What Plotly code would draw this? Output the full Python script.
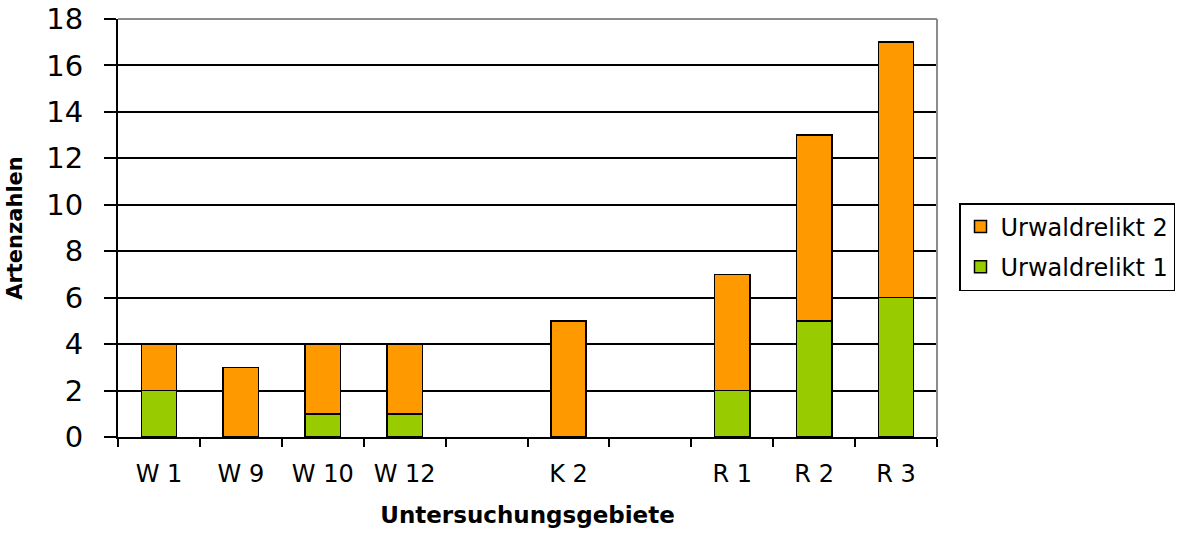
import plotly.graph_objects as go

categories = ["W 1", "W 9", "W 10", "W 12", " ", "K 2", "  ", "R 1", "R 2", "R 3"]
urwaldrelikt1 = [2, None, 1, 1, None, None, None, 2, 5, 6]
urwaldrelikt2 = [2, 3, 3, 3, None, 5, None, 5, 8, 11]
y_ticks = [0, 2, 4, 6, 8, 10, 12, 14, 16, 18]

font_family = "DejaVu Sans, sans-serif"

fig = go.Figure()
fig.add_trace(go.Bar(
    x=categories, y=urwaldrelikt1, name="Urwaldrelikt 1", legendgroup="g1", legendrank=2,
    marker=dict(color="#99CC00", line=dict(color="black", width=1.5)),
))
fig.add_trace(go.Bar(
    x=categories, y=urwaldrelikt2, name="Urwaldrelikt 2", legendgroup="g2", legendrank=1,
    marker=dict(color="#FF9900", line=dict(color="black", width=1.5)),
))

fig.update_layout(
    width=1181, height=534,
    barmode="stack", bargap=0.57,
    plot_bgcolor="white", paper_bgcolor="white",
    margin=dict(l=118, r=244, t=19, b=97, autoexpand=False),
    font=dict(family=font_family, color="black"),
    legend=dict(
        xref="container", yref="container",
        x=959 / 1181, y=1 - 203 / 534, xanchor="left", yanchor="top",
        traceorder="grouped", tracegroupgap=6,
        bordercolor="black", borderwidth=1.5,
        font=dict(size=24, family=font_family),
        itemwidth=30,
    ),
    xaxis=dict(
        type="category", categoryorder="array", categoryarray=categories,
        tickson="boundaries", ticks="outside", ticklen=8, tickwidth=2, tickcolor="black",
        showline=True, linecolor="black", linewidth=2,
        showgrid=False, automargin=False,
        tickfont=dict(size=24, family=font_family),
        ticklabelstandoff=14,
        title=dict(text="<b>Untersuchungsgebiete</b>", font=dict(size=23, family=font_family), standoff=20),
        range=[-0.5, 9.5],
    ),
    yaxis=dict(
        range=[0, 18], tickvals=y_ticks,
        ticks="outside", ticklen=12, tickwidth=2, tickcolor="black",
        showline=True, linecolor="black", linewidth=2,
        showgrid=True, gridcolor="black", gridwidth=1.5,
        zeroline=False, automargin=False,
        tickfont=dict(size=29, family=font_family),
        ticklabelstandoff=15,
        title=dict(text="<b>Artenzahlen</b>", font=dict(size=21, family=font_family), standoff=18),
    ),
    shapes=[
        dict(type="line", xref="paper", yref="paper", x0=0, x1=1, y0=1, y1=1,
             line=dict(color="#8c8c8c", width=2), layer="above"),
        dict(type="line", xref="paper", yref="paper", x0=1, x1=1, y0=0, y1=1,
             line=dict(color="#8c8c8c", width=2), layer="above"),
    ],
)

fig.write_html("out.html", config={"displayModeBar": False},
               post_script="document.body.style.margin='0';")
